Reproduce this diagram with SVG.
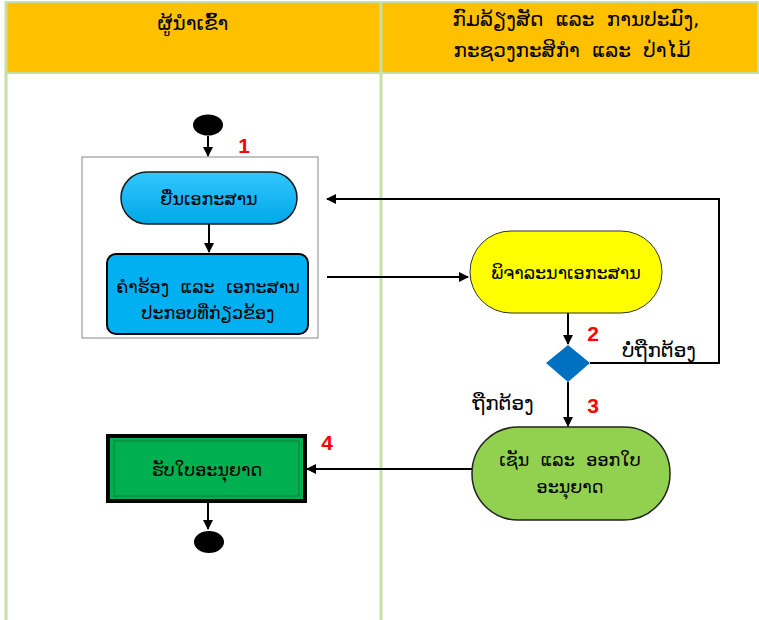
<svg xmlns="http://www.w3.org/2000/svg" width="759" height="620" viewBox="0 0 759 620">
<defs>
<marker id="ah" viewBox="0 0 10 10" refX="9" refY="5" markerWidth="5" markerHeight="5" orient="auto"><path d="M0,0 L10,5 L0,10 z" fill="#000"/></marker>
<linearGradient id="cy" x1="0" y1="0" x2="0" y2="1"><stop offset="0" stop-color="#33C6FF"/><stop offset="1" stop-color="#00A8E8"/></linearGradient>
</defs>
<style>
text{font-family:"DejaVu Sans","Noto Sans",sans-serif;fill:#000;text-anchor:middle}
.hd{font-size:20px;word-spacing:6px}
.lb{font-size:17.5px;word-spacing:6px}
.lg{font-size:20px}
.num{font-family:"Liberation Sans",Arial,sans-serif;font-size:21px;font-weight:bold;fill:#FF0000}
.ln{stroke:#000;stroke-width:2;fill:none}
</style>
<rect width="759" height="620" fill="#fff"/>
<g id="lanes">
<rect x="6" y="2" width="752" height="71" fill="#FFC000" stroke="#C6E0A8" stroke-width="2"/>
<line x1="6" y1="2" x2="6" y2="620" stroke="#C6E0A8" stroke-width="3"/>
<line x1="381" y1="2" x2="381" y2="620" stroke="#C6E0A8" stroke-width="3"/>
<line x1="6" y1="73" x2="758" y2="73" stroke="#C6E0A8" stroke-width="2"/>
<text class="hd" x="193" y="30">ຜູ້ນຳເຂົ້າ</text>
<text class="hd" x="576" y="26">ກົມລ້ຽງສັດ ແລະ ການປະມົງ,</text>
<text class="hd" x="572" y="57">ກະຊວງກະສິກຳ ແລະ ປ່າໄມ້</text>
</g>
<g id="connectors">
<line class="ln" x1="208" y1="136" x2="208" y2="156" marker-end="url(#ah)"/>
<line class="ln" x1="209" y1="224" x2="209" y2="252" marker-end="url(#ah)"/>
<line class="ln" x1="327" y1="277" x2="468" y2="277" marker-end="url(#ah)"/>
<line class="ln" x1="568" y1="313" x2="568" y2="344" marker-end="url(#ah)"/>
<polyline class="ln" points="590,363 719,363 719,199 327,199" marker-end="url(#ah)"/>
<line class="ln" x1="568" y1="382" x2="568" y2="426" marker-end="url(#ah)"/>
<line class="ln" x1="472" y1="469" x2="307" y2="469" marker-end="url(#ah)"/>
<line class="ln" x1="208" y1="503" x2="208" y2="529" marker-end="url(#ah)"/>
</g>
<g id="start"><ellipse cx="208" cy="125" rx="15" ry="10.5" fill="#000"/></g>
<g id="group1"><rect x="82" y="157" width="236" height="181" fill="none" stroke="#888" stroke-width="1"/><text class="num" x="244" y="153">1</text></g>
<g id="submit">
<rect x="121" y="172" width="176" height="52" rx="26" fill="url(#cy)" stroke="#1a1a1a" stroke-width="1.5"/>
<text class="lb" x="209" y="205">ຍື່ນເອກະສານ</text>
</g>
<g id="application">
<rect x="107" y="254" width="201" height="80" rx="9" fill="#00B0F0" stroke="#000" stroke-width="2"/>
<text class="lb" x="208" y="293">ຄຳຮ້ອງ ແລະ ເອກະສານ</text>
<text class="lb" x="208" y="319">ປະກອບທີ່ກ່ຽວຂ້ອງ</text>
</g>
<g id="review">
<rect x="470" y="231" width="192" height="82" rx="41" fill="#FFFF00" stroke="#333" stroke-width="1"/>
<text class="lb" x="566" y="279">ພິຈາລະນາເອກະສານ</text>
</g>
<g id="decision">
<polygon points="568,345 590,363 568,382 546,363" fill="#0070C0"/>
<text class="num" x="593" y="341">2</text>
<text class="lg" x="659" y="357">ບໍ່ຖືກຕ້ອງ</text>
<text class="lg" x="503" y="410">ຖືກຕ້ອງ</text>
<text class="num" x="593" y="413">3</text>
</g>
<g id="sign">
<rect x="472" y="427" width="198" height="93" rx="46" fill="#92D050" stroke="#222" stroke-width="1.5"/>
<text class="lb" x="570" y="466">ເຊັນ ແລະ ອອກໃບ</text>
<text class="lb" x="570" y="493">ອະນຸຍາດ</text>
</g>
<g id="receive">
<rect x="108" y="436" width="197" height="65" fill="#00B050" stroke="#000" stroke-width="4"/>
<rect x="114" y="441" width="185" height="55" fill="none" stroke="#1a7a3a" stroke-width="1"/>
<text class="lb" x="207" y="476">ຮັບໃບອະນຸຍາດ</text>
<text class="num" x="327" y="450">4</text>
</g>
<g id="end"><ellipse cx="209" cy="542" rx="15" ry="11" fill="#000"/></g>
</svg>
